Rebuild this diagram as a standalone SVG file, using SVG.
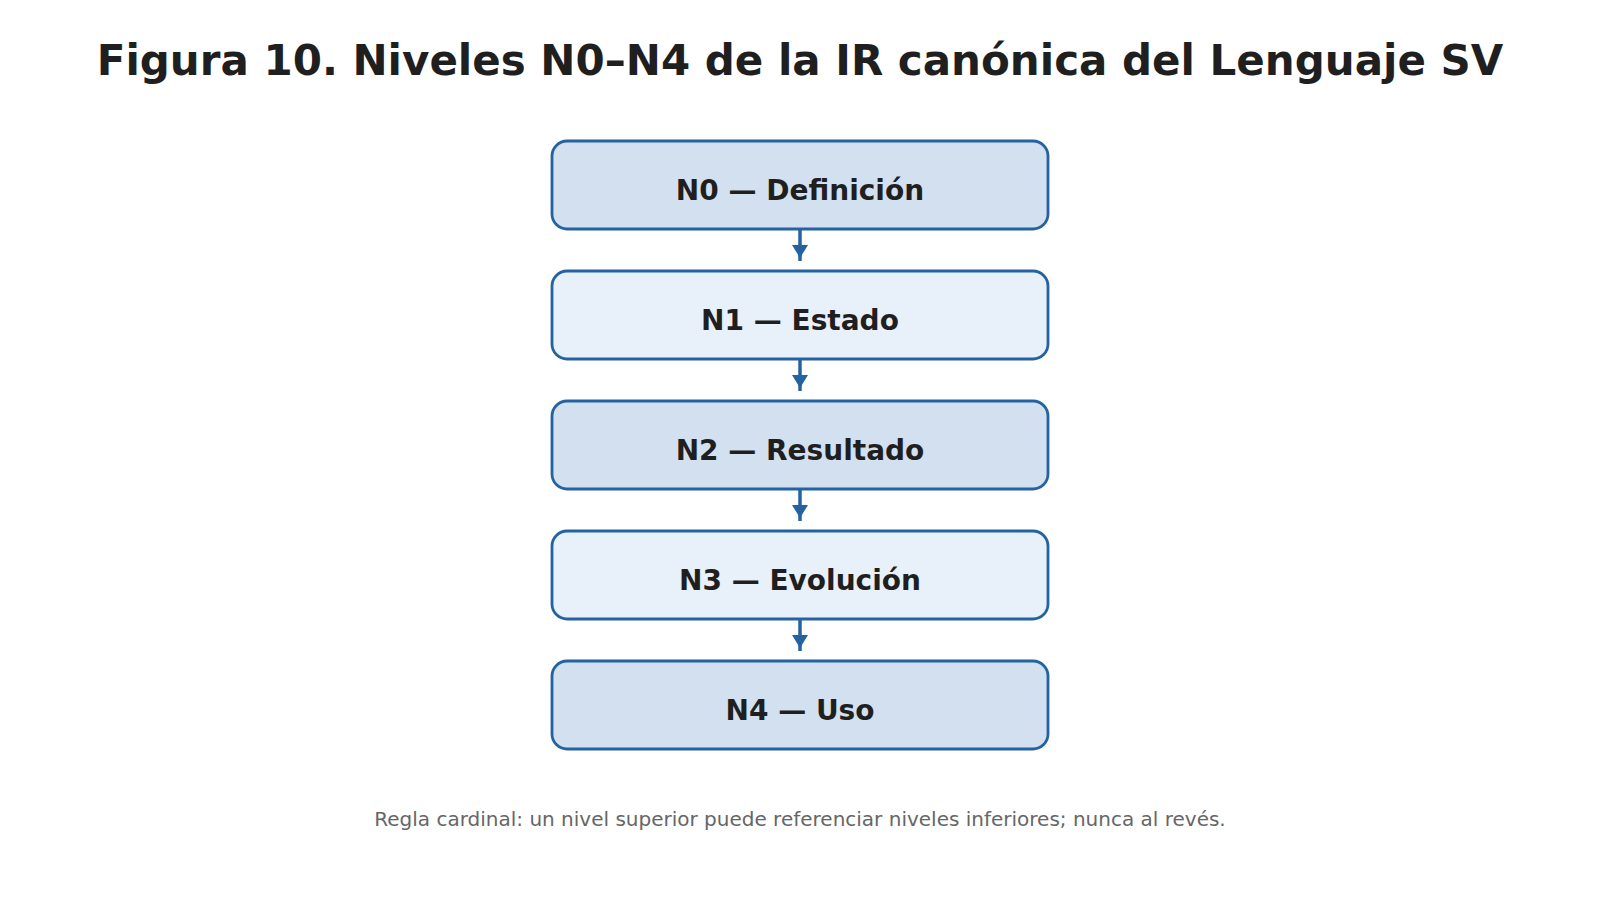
<svg xmlns="http://www.w3.org/2000/svg" width="1600" height="900" viewBox="0 0 1600 900">
<style>
.box{stroke:#2462a1;stroke-width:2.8}
.d{fill:#d3e0f0}
.l{fill:#e8f0fa}
.lbl{font-family:"DejaVu Sans",sans-serif;font-weight:bold;font-size:28px;fill:#1f1f1f;text-anchor:middle}
.title{font-family:"DejaVu Sans",sans-serif;font-weight:bold;font-size:42px;fill:#1f1f1f;text-anchor:middle}
.foot{font-family:"DejaVu Sans",sans-serif;font-size:20px;fill:#666666;text-anchor:middle}
.stem{stroke:#2462a1;stroke-width:3.5;fill:none}
.head{fill:#2462a1}
</style>
<rect width="1600" height="900" fill="#ffffff"/>
<text class="title" x="800" y="75">Figura 10. Niveles N0–N4 de la IR canónica del Lenguaje SV</text>
<g id="connectors">
<line class="stem" x1="800" y1="229" x2="800" y2="261"/><polygon class="head" points="792,245 808,245 800,258"/>
<line class="stem" x1="800" y1="359" x2="800" y2="391"/><polygon class="head" points="792,375 808,375 800,388"/>
<line class="stem" x1="800" y1="489" x2="800" y2="521"/><polygon class="head" points="792,505 808,505 800,518"/>
<line class="stem" x1="800" y1="619" x2="800" y2="651"/><polygon class="head" points="792,635 808,635 800,648"/>
</g>
<g id="n0"><rect class="box d" x="552" y="141" width="496" height="88" rx="15"/><text class="lbl" x="800" y="200">N0 — Definición</text></g>
<g id="n1"><rect class="box l" x="552" y="271" width="496" height="88" rx="15"/><text class="lbl" x="800" y="330">N1 — Estado</text></g>
<g id="n2"><rect class="box d" x="552" y="401" width="496" height="88" rx="15"/><text class="lbl" x="800" y="460">N2 — Resultado</text></g>
<g id="n3"><rect class="box l" x="552" y="531" width="496" height="88" rx="15"/><text class="lbl" x="800" y="590">N3 — Evolución</text></g>
<g id="n4"><rect class="box d" x="552" y="661" width="496" height="88" rx="15"/><text class="lbl" x="800" y="720">N4 — Uso</text></g>
<text class="foot" x="800" y="826">Regla cardinal: un nivel superior puede referenciar niveles inferiores; nunca al revés.</text>
</svg>
